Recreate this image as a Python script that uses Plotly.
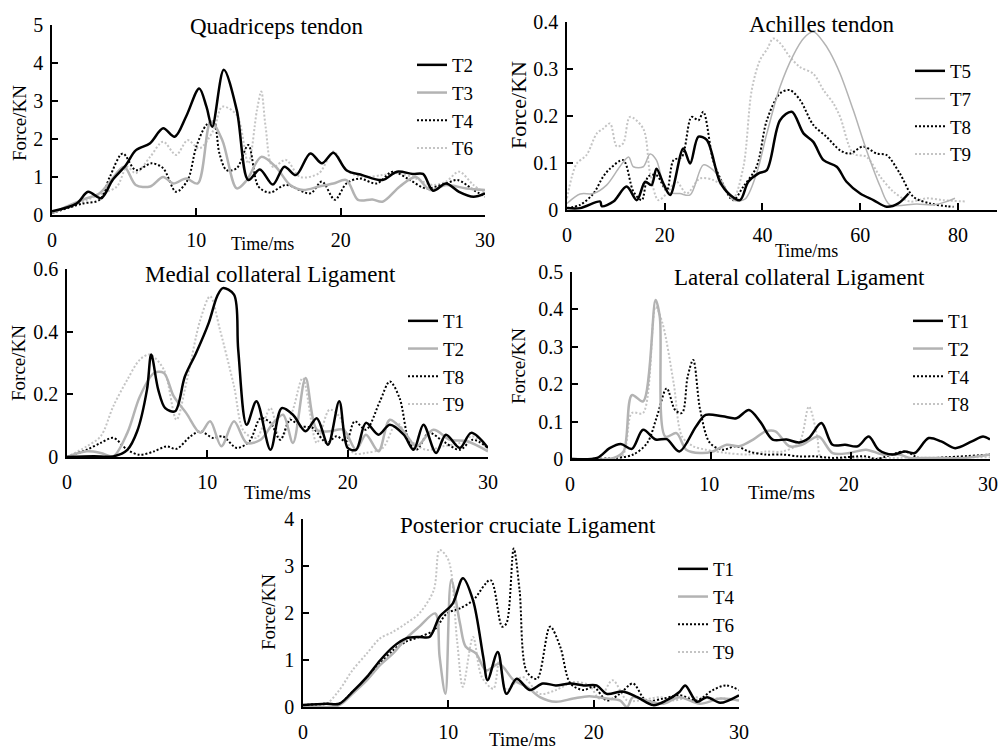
import plotly.graph_objects as go

FONT = "Liberation Serif"

# ---------------- Quadriceps tendon ----------------
quad_T2_t = [0, 1.7, 2.5, 3.4, 4.2, 5.1, 5.8, 6.8, 7.7, 8.5, 9.3, 10.2, 10.7, 11.1, 11.9, 12.8, 13.6, 14.4, 15.3, 16.1, 16.9, 17.9, 18.7, 19.5, 20.4, 21.5, 22.9, 23.9, 25.0, 25.7, 26.4, 27.3, 28.2, 29.2, 30]
quad_T2_f = [0.1, 0.3, 0.61, 0.44, 0.92, 1.3, 1.7, 1.89, 2.28, 2.06, 2.6, 3.33, 2.85, 2.32, 3.82, 2.76, 0.92, 1.2, 0.8, 1.27, 1.05, 1.62, 1.36, 1.64, 1.18, 1.05, 0.92, 1.14, 1.08, 1.08, 0.64, 0.83, 0.61, 0.48, 0.57]
quad_T3_t = [0, 2.1, 3.3, 4.1, 5.0, 5.8, 6.8, 7.7, 8.4, 9.3, 10.1, 11.0, 11.8, 12.8, 13.5, 14.5, 15.5, 16.5, 17.4, 18.5, 19.5, 20.4, 21.2, 22.2, 22.9, 24.1, 25.2, 26.2, 27.3, 28.7, 30]
quad_T3_f = [0.05, 0.4, 0.57, 0.92, 1.27, 0.79, 0.75, 1.0, 0.83, 0.96, 0.83, 2.46, 1.97, 0.7, 0.92, 1.53, 1.27, 0.79, 0.66, 0.75, 0.83, 0.92, 0.4, 0.41, 0.35, 0.75, 1.0, 0.66, 0.79, 0.7, 0.66]
quad_T4_t = [0, 2.1, 3.3, 4.0, 4.9, 5.8, 6.9, 7.7, 8.6, 9.4, 10.0, 10.7, 11.2, 11.6, 12.1, 12.8, 13.6, 14.3, 15.1, 16.2, 17.9, 18.7, 19.6, 20.4, 21.3, 22.5, 23.6, 24.8, 25.9, 27.3, 28.1, 29.2, 30]
quad_T4_f = [0.05, 0.3, 0.4, 1.0, 1.62, 1.18, 1.36, 1.23, 0.61, 0.92, 1.8, 2.37, 2.46, 1.62, 1.18, 1.23, 1.84, 0.75, 0.59, 0.79, 0.57, 0.88, 0.4, 0.83, 0.96, 0.83, 1.14, 0.92, 0.7, 0.83, 0.92, 0.66, 0.48]
quad_T6_t = [0, 2.1, 3.5, 4.5, 5.2, 5.8, 6.8, 7.7, 8.6, 9.4, 10.2, 11.2, 11.8, 12.8, 13.6, 14.2, 14.5, 14.8, 15.3, 16.2, 17.2, 18.5, 19.5, 20.4, 21.5, 22.9, 24.1, 25.2, 26.4, 27.3, 28.2, 29.2, 30]
quad_T6_f = [0.05, 0.35, 0.57, 0.75, 1.27, 1.1, 1.53, 1.93, 1.58, 1.97, 1.75, 2.24, 2.85, 2.63, 1.36, 2.76, 3.25, 2.32, 1.27, 1.45, 1.0, 1.1, 1.67, 1.18, 1.0, 1.05, 1.1, 0.96, 0.79, 0.88, 1.14, 0.79, 0.57]

# ---------------- Achilles tendon ----------------
ach_T5_t = [0, 2.7, 6.8, 7.1, 9.5, 12.2, 14.3, 16.0, 17.3, 18.3, 19.7, 21.1, 23.8, 25.2, 26.9, 28.6, 31.3, 33.4, 35.4, 37.1, 39.2, 40.9, 43.6, 46.0, 48.4, 50.4, 52.5, 55.2, 57.2, 60.0, 62.7, 65.4, 67.8, 69.9]
ach_T5_f = [0.004, 0.004, 0.018, 0.008, 0.018, 0.05, 0.021, 0.06, 0.053, 0.088, 0.057, 0.032, 0.131, 0.099, 0.156, 0.149, 0.06, 0.032, 0.021, 0.06, 0.078, 0.085, 0.191, 0.209, 0.163, 0.145, 0.106, 0.092, 0.06, 0.035, 0.021, 0.007, 0.014, 0.035]
ach_T7_t = [0, 2.7, 5.4, 8.1, 10.8, 12.6, 13.6, 15.6, 17.0, 18.3, 20.4, 23.1, 25.2, 27.9, 29.9, 31.7, 34.0, 36.4, 38.8, 40.9, 43.6, 46.3, 48.4, 50.4, 52.5, 53.8, 55.9, 58.6, 61.3, 64.1, 66.1, 71.6, 75.0, 77.7, 79.4]
ach_T7_f = [0.014, 0.034, 0.035, 0.053, 0.092, 0.113, 0.092, 0.092, 0.119, 0.106, 0.039, 0.035, 0.032, 0.096, 0.085, 0.06, 0.021, 0.023, 0.078, 0.163, 0.262, 0.329, 0.365, 0.379, 0.357, 0.336, 0.29, 0.212, 0.127, 0.05, 0.011, 0.013, 0.011, 0.018, 0.025]
ach_T8_t = [0, 2.7, 5.4, 7.4, 8.8, 11.5, 13.6, 15.3, 16.6, 18.3, 20.4, 21.8, 23.5, 25.5, 26.9, 27.9, 29.9, 31.7, 34.0, 36.1, 38.8, 40.9, 43.6, 45.6, 47.7, 50.4, 53.1, 55.9, 57.9, 60.6, 63.4, 65.4, 68.1, 70.9, 74.3, 77.7, 79.1]
ach_T8_f = [0.004, 0.011, 0.035, 0.071, 0.088, 0.106, 0.039, 0.021, 0.071, 0.074, 0.042, 0.106, 0.113, 0.198, 0.191, 0.209, 0.106, 0.06, 0.021, 0.05, 0.092, 0.191, 0.248, 0.255, 0.234, 0.181, 0.156, 0.127, 0.12, 0.135, 0.12, 0.117, 0.078, 0.028, 0.014, 0.008, 0.007]
ach_T9_t = [0, 1.0, 2.0, 4.0, 6.1, 7.4, 8.8, 10.2, 11.5, 12.9, 15.6, 17.0, 18.7, 20.4, 22.4, 24.5, 27.2, 29.9, 32.0, 34.0, 36.1, 37.8, 39.5, 41.0, 42.2, 43.6, 45.6, 47.7, 50.4, 52.5, 54.5, 55.9, 58.6, 61.3, 64.1, 66.8, 70.2, 73.6, 77.0, 81.8]
ach_T9_f = [0.025, 0.071, 0.099, 0.117, 0.163, 0.173, 0.184, 0.135, 0.142, 0.198, 0.173, 0.078, 0.021, 0.035, 0.06, 0.035, 0.067, 0.064, 0.05, 0.025, 0.092, 0.255, 0.319, 0.343, 0.365, 0.355, 0.326, 0.304, 0.29, 0.255, 0.227, 0.198, 0.12, 0.113, 0.071, 0.039, 0.018, 0.025, 0.021, 0.018]

# ---------------- Medial collateral Ligament ----------------
mcl_T1_t = [0, 1.9, 3.3, 4.3, 5.0, 5.7, 6.0, 6.5, 7.0, 7.7, 8.4, 9.2, 10.1, 10.7, 11.1, 11.9, 12.2, 12.8, 13.5, 14.5, 15.3, 16.1, 17.0, 17.8, 18.6, 19.4, 20.0, 20.6, 21.3, 22.2, 23.0, 24.0, 24.7, 25.4, 26.3, 27.0, 28.0, 28.8, 30]
mcl_T1_f = [0, 0.002, 0.002, 0.023, 0.082, 0.215, 0.327, 0.215, 0.156, 0.146, 0.257, 0.332, 0.428, 0.513, 0.539, 0.518, 0.343, 0.103, 0.178, 0.023, 0.156, 0.135, 0.082, 0.124, 0.039, 0.178, 0.029, 0.023, 0.109, 0.071, 0.103, 0.071, 0.023, 0.103, 0.013, 0.071, 0.029, 0.077, 0.029]
mcl_T2_t = [0, 1.4, 2.4, 3.3, 4.3, 5.2, 6.2, 6.9, 7.6, 8.5, 9.5, 10.2, 11.0, 11.9, 12.8, 13.8, 14.7, 15.4, 16.1, 17.0, 17.8, 18.7, 19.7, 20.6, 21.3, 22.2, 23.0, 24.0, 24.9, 26.1, 27.3, 28.5, 30]
mcl_T2_f = [0, 0.018, 0.013, 0.002, 0.077, 0.194, 0.268, 0.268, 0.194, 0.14, 0.077, 0.114, 0.034, 0.114, 0.045, 0.055, 0.109, 0.135, 0.045, 0.252, 0.087, 0.082, 0.087, 0.023, 0.071, 0.018, 0.119, 0.082, 0.034, 0.087, 0.055, 0.05, 0.018]
mcl_T8_t = [0, 1.4, 2.4, 3.3, 4.3, 5.2, 6.2, 7.1, 7.8, 8.8, 9.5, 10.4, 11.1, 12.1, 13.0, 13.8, 14.5, 15.2, 15.9, 16.6, 17.5, 18.5, 19.2, 19.9, 20.5, 21.3, 22.3, 23.0, 23.7, 24.4, 24.9, 25.8, 26.8, 28.0, 28.9, 30]
mcl_T8_f = [0, 0.023, 0.045, 0.061, 0.023, 0.007, 0.018, 0.034, 0.026, 0.066, 0.082, 0.061, 0.066, 0.029, 0.05, 0.124, 0.109, 0.055, 0.119, 0.098, 0.093, 0.045, 0.066, 0.05, 0.114, 0.087, 0.178, 0.241, 0.188, 0.045, 0.023, 0.077, 0.05, 0.023, 0.055, 0.029]
mcl_T9_t = [0, 1.4, 2.4, 3.3, 4.3, 5.2, 5.9, 6.9, 7.8, 8.5, 9.5, 10.2, 10.9, 11.9, 12.6, 13.5, 14.5, 15.2, 16.1, 16.8, 17.8, 18.7, 19.4, 20.4, 21.3, 22.5, 23.5, 24.4, 25.6, 26.8, 28.0, 28.9, 30]
mcl_T9_f = [0, 0.034, 0.066, 0.162, 0.247, 0.311, 0.327, 0.279, 0.119, 0.236, 0.438, 0.513, 0.406, 0.226, 0.082, 0.061, 0.156, 0.055, 0.151, 0.252, 0.045, 0.151, 0.13, 0.013, 0.013, 0.029, 0.109, 0.055, 0.023, 0.034, 0.045, 0.066, 0.023]

# ---------------- Lateral collateral Ligament ----------------
lcl_T1_t = [0, 1.8, 2.7, 3.5, 4.3, 5.1, 6.0, 6.8, 7.7, 8.9, 9.6, 10.8, 11.8, 12.7, 13.5, 14.4, 15.4, 16.3, 17.0, 17.9, 18.7, 19.6, 20.5, 21.3, 22.0, 23.0, 23.9, 24.6, 25.6, 26.5, 27.5, 28.7, 29.5, 30]
lcl_T1_f = [0, 0.003, 0.029, 0.04, 0.027, 0.078, 0.052, 0.053, 0.02, 0.087, 0.118, 0.114, 0.109, 0.131, 0.1, 0.052, 0.052, 0.044, 0.056, 0.096, 0.038, 0.038, 0.034, 0.06, 0.025, 0.012, 0.02, 0.016, 0.056, 0.047, 0.029, 0.047, 0.06, 0.052]
lcl_T2_t = [0, 3.0, 3.7, 4.3, 5.1, 6.0, 6.3, 6.7, 7.5, 8.2, 9.2, 10.1, 11.1, 12.0, 13.0, 13.9, 14.6, 15.6, 16.5, 17.7, 18.7, 19.9, 21.1, 22.3, 23.5, 24.2, 25.8, 28.2, 30]
lcl_T2_f = [0, 0.003, 0.02, 0.171, 0.154, 0.425, 0.38, 0.06, 0.069, 0.025, 0.016, 0.02, 0.038, 0.034, 0.052, 0.074, 0.074, 0.034, 0.038, 0.06, 0.016, 0.016, 0.025, 0.012, 0.012, 0.003, 0.003, 0.003, 0.012]
lcl_T4_t = [0, 3.2, 4.4, 5.4, 6.1, 6.8, 7.4, 7.9, 8.3, 8.7, 9.2, 9.9, 10.8, 11.8, 12.7, 13.9, 15.1, 16.3, 17.5, 18.7, 21.1, 21.8, 23.9, 24.9, 27.0, 30]
lcl_T4_f = [0, 0.003, 0.012, 0.043, 0.114, 0.189, 0.131, 0.123, 0.22, 0.265, 0.131, 0.043, 0.025, 0.034, 0.02, 0.012, 0.012, 0.007, 0.007, 0.003, 0.007, 0.0, 0.02, 0.003, 0.005, 0.012]
lcl_T8_t = [0, 3.5, 4.3, 5.1, 6.0, 6.5, 7.3, 7.9, 8.7, 9.6, 11.1, 12.7, 13.9, 15.1, 16.3, 17.0, 17.6, 17.9, 19.9, 23.5, 30]
lcl_T8_f = [0, 0.003, 0.123, 0.123, 0.407, 0.362, 0.202, 0.06, 0.034, 0.025, 0.016, 0.012, 0.02, 0.02, 0.043, 0.14, 0.06, 0.003, 0.003, 0.003, 0.005]

# ---------------- Posterior cruciate Ligament ----------------
pcl_T1_t = [0, 1.6, 2.5, 3.4, 4.4, 5.3, 6.2, 7.1, 8.0, 8.7, 9.4, 10.3, 11.0, 11.7, 12.4, 12.7, 13.4, 14.0, 14.7, 15.6, 16.5, 17.4, 18.4, 19.3, 20.2, 20.9, 22.0, 23.0, 24.1, 25.0, 25.9, 26.3, 27.1, 27.8, 28.7, 30]
pcl_T1_f = [0.04, 0.07, 0.07, 0.32, 0.64, 0.99, 1.28, 1.46, 1.49, 1.49, 1.92, 2.2, 2.74, 2.27, 1.07, 0.57, 1.17, 0.28, 0.6, 0.36, 0.5, 0.46, 0.5, 0.46, 0.46, 0.28, 0.33, 0.21, 0.04, 0.14, 0.32, 0.46, 0.11, 0.21, 0.09, 0.25]
pcl_T4_t = [0, 2.5, 3.4, 4.4, 5.3, 6.2, 7.1, 8.0, 9.1, 9.4, 9.8, 10.2, 10.8, 11.2, 11.9, 12.6, 13.5, 14.5, 15.4, 16.3, 17.4, 18.6, 19.7, 20.9, 21.8, 22.3, 22.7, 23.6, 24.8, 25.9, 27.3, 28.7, 30]
pcl_T4_f = [0, 0.04, 0.28, 0.57, 0.89, 1.14, 1.46, 1.71, 1.99, 1.07, 0.28, 2.7, 1.78, 1.28, 1.14, 0.78, 0.92, 0.57, 0.43, 0.21, 0.11, 0.18, 0.23, 0.18, 0.14, 0.0, 0.21, 0.14, 0.07, 0.21, 0.07, 0.18, 0.14]
pcl_T6_t = [0, 1.6, 2.5, 3.4, 4.4, 5.3, 6.2, 7.1, 8.0, 9.0, 9.9, 10.8, 11.7, 12.9, 13.7, 14.0, 14.5, 14.9, 15.4, 16.1, 17.0, 17.7, 18.4, 19.3, 20.0, 20.9, 21.8, 22.7, 23.6, 24.8, 25.9, 27.1, 28.2, 29.1, 30]
pcl_T6_f = [0.04, 0.07, 0.07, 0.32, 0.6, 0.92, 1.21, 1.39, 1.49, 1.63, 1.99, 2.1, 2.27, 2.7, 1.71, 1.78, 3.37, 2.49, 0.75, 0.6, 1.71, 1.28, 0.5, 0.36, 0.43, 0.14, 0.28, 0.5, 0.14, 0.18, 0.25, 0.14, 0.36, 0.46, 0.36]
pcl_T9_t = [0, 1.6, 2.5, 3.4, 4.4, 5.3, 6.2, 7.1, 8.0, 9.0, 9.4, 10.0, 10.6, 11.0, 11.7, 12.3, 13.1, 13.5, 14.0, 15.1, 16.3, 17.4, 18.6, 19.7, 20.4, 21.3, 22.3, 23.2, 24.6, 25.5, 26.6, 27.8, 28.9, 30]
pcl_T9_f = [0, 0.07, 0.36, 0.78, 1.14, 1.46, 1.6, 1.78, 1.99, 2.49, 3.34, 3.13, 1.42, 0.43, 1.49, 0.64, 0.39, 0.99, 0.36, 0.64, 0.28, 0.36, 0.53, 0.46, 0.18, 0.57, 0.14, 0.14, 0.21, 0.14, 0.21, 0.18, 0.18, 0.14]

# ---------------- styles ----------------
STY = {
    "bs": dict(color="#000000", width=2.5, dash="solid"),
    "gs": dict(color="#b3b3b3", width=2.5, dash="solid"),
    "gs_thin": dict(color="#b3b3b3", width=1.5, dash="solid"),
    "bd": dict(color="#000000", width=2, dash="2px,2px"),
    "gd": dict(color="#c4c4c4", width=2, dash="2px,2px"),
}

panels = [
    ("x", "y", "legend", [("T2", quad_T2_t, quad_T2_f, "bs"), ("T3", quad_T3_t, quad_T3_f, "gs"),
                          ("T4", quad_T4_t, quad_T4_f, "bd"), ("T6", quad_T6_t, quad_T6_f, "gd")]),
    ("x2", "y2", "legend2", [("T5", ach_T5_t, ach_T5_f, "bs"), ("T7", ach_T7_t, ach_T7_f, "gs_thin"),
                             ("T8", ach_T8_t, ach_T8_f, "bd"), ("T9", ach_T9_t, ach_T9_f, "gd")]),
    ("x3", "y3", "legend3", [("T1", mcl_T1_t, mcl_T1_f, "bs"), ("T2", mcl_T2_t, mcl_T2_f, "gs"),
                             ("T8", mcl_T8_t, mcl_T8_f, "bd"), ("T9", mcl_T9_t, mcl_T9_f, "gd")]),
    ("x4", "y4", "legend4", [("T1", lcl_T1_t, lcl_T1_f, "bs"), ("T2", lcl_T2_t, lcl_T2_f, "gs"),
                             ("T4", lcl_T4_t, lcl_T4_f, "bd"), ("T8", lcl_T8_t, lcl_T8_f, "gd")]),
    ("x5", "y5", "legend5", [("T1", pcl_T1_t, pcl_T1_f, "bs"), ("T4", pcl_T4_t, pcl_T4_f, "gs"),
                             ("T6", pcl_T6_t, pcl_T6_f, "bd"), ("T9", pcl_T9_t, pcl_T9_f, "gd")]),
]

fig = go.Figure()
for pi, (xa, ya, lg, series) in enumerate(panels):
    for si in [3, 2, 1, 0]:
        name, t, f, st = series[si]
        fig.add_trace(go.Scatter(
            x=t, y=f, name=name, mode="lines", xaxis=xa, yaxis=ya, legend=lg,
            legendgroup=f"p{pi}_{name}", legendrank=si + 1,
            line=dict(shape="spline", smoothing=0.9, **STY[st]),
        ))

W, H = 1000, 749
def xd(a, b):
    return [a / W, b / W]
def yd(top, bottom):
    return [1 - bottom / H, 1 - top / H]

boxes = [(52, 485, 25, 215), (567, 997, 22, 210), (67, 488, 269, 457), (572, 990, 272, 459), (303, 739, 519, 707)]
xranges = [[0, 30], [0, 88], [0, 30], [0, 30], [0, 30]]
yranges = [[0, 5], [0, 0.4], [0, 0.6], [0, 0.5], [0, 4]]
ydt = [1, 0.1, 0.2, 0.1, 1]
xdt = [10, 20, 10, 10, 10]
xshift = [0, 0, 0, -2, 0]

layout = dict(
    template="none",
    width=W, height=H, margin=dict(l=0, r=0, t=0, b=0, autoexpand=False),
    paper_bgcolor="white", plot_bgcolor="white",
    font=dict(family=FONT, size=18, color="black"),
    showlegend=True,
)
axfont = dict(family=FONT, size=20, color="black")
for i, (l, r, t, b) in enumerate(boxes):
    sx = "" if i == 0 else str(i + 1)
    layout["xaxis" + sx] = dict(
        domain=xd(l, r), range=xranges[i], anchor="y" + sx, dtick=xdt[i], tick0=0,
        showline=True, linecolor="black", linewidth=1.5, ticks="inside", ticklen=7,
        tickcolor="black", tickwidth=1.5, showgrid=False, zeroline=False,
        tickfont=axfont, ticklabelstandoff=6, ticklabelshift=xshift[i],
        automargin=False, ticklabeloverflow="allow",
    )
    layout["yaxis" + sx] = dict(
        domain=yd(t, b), range=yranges[i], anchor="x" + sx, dtick=ydt[i], tick0=0,
        showline=True, linecolor="black", linewidth=1.5, ticks="inside", ticklen=6,
        tickcolor="black", tickwidth=1.5, showgrid=False, zeroline=False,
        tickfont=axfont, ticklabelstandoff=3, automargin=False,
    )

legpos = [(452, 66), (950, 72), (443, 322), (948, 322), (713, 570)]
for i, (tx, ty) in enumerate(legpos):
    key = "legend" if i == 0 else f"legend{i + 1}"
    layout[key] = dict(
        x=(tx - 40) / W, y=1 - (ty - 20) / H, xanchor="left", yanchor="top",
        bgcolor="rgba(0,0,0,0)", font=dict(family=FONT, size=19, color="black"),
        tracegroupgap=0, itemwidth=30,
    )

titles = [("Quadriceps tendon", 277, 27), ("Achilles tendon", 821, 25),
          ("Medial collateral Ligament", 270, 275), ("Lateral collateral Ligament", 799, 277),
          ("Posterior cruciate Ligament", 528, 525)]
xlabels = [(262, 244, 18), (806, 251, 18), (277, 492, 19), (781, 492, 19), (522, 739, 19)]
ylabels = [(20, 123, 19), (518, 105, 22), (18, 363, 19), (518, 366, 19), (268, 612, 19)]

ann = []
for txt, x, y in titles:
    ann.append(dict(text=txt, x=x / W, y=1 - y / H, xref="paper", yref="paper", showarrow=False,
                    xanchor="center", yanchor="middle", font=dict(family=FONT, size=23, color="black")))
for x, y, s in xlabels:
    ann.append(dict(text="Time/ms", x=x / W, y=1 - y / H, xref="paper", yref="paper", showarrow=False,
                    xanchor="center", yanchor="middle", font=dict(family=FONT, size=s, color="black")))
for x, y, s in ylabels:
    ann.append(dict(text="Force/KN", x=x / W, y=1 - y / H, xref="paper", yref="paper", showarrow=False,
                    textangle=-90, xanchor="center", yanchor="middle", font=dict(family=FONT, size=s, color="black")))
layout["annotations"] = ann

fig.update_layout(**layout)
fig.write_html("out.html", config={"displayModeBar": False},
               post_script="document.body.style.margin='0';document.body.style.padding='0';document.body.style.overflow='hidden';")
